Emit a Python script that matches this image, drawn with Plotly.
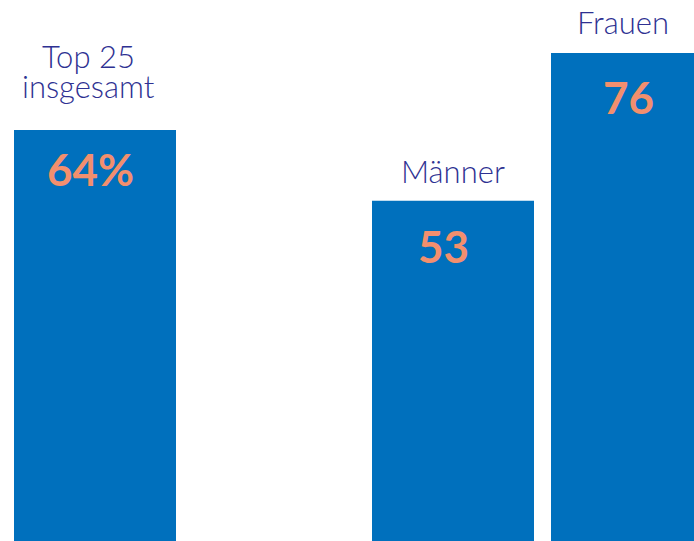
import plotly.graph_objects as go

categories = ["Top 25<br>insgesamt", "Männer", "Frauen"]
values = [64, 53, 76]
value_labels = ["64%", "53", "76"]

# layout (pixel-space positions on a numeric x axis)
bar_x = [95, 453, 632]
bar_w = 162
label_dx = [-7, 0, -9]
label_gap = [33, 19, 20]      # gap of last label line above bar top
value_dx = [-5, -10, -4]
value_gap = [39, 45, 44]      # value centre below bar top

W, H = 694, 541
px_per_unit = 6.42

bar_color = "#0070BD"
label_color = "#2E3192"
value_color = "#F28F6E"

fig = go.Figure(go.Bar(
    x=bar_x, y=values, width=bar_w,
    marker=dict(color=bar_color, line=dict(width=0)),
    hoverinfo="skip",
))

ann = []
for i, cat in enumerate(categories):
    lines = cat.split("<br>")
    n = len(lines)
    for j, ln in enumerate(lines):
        ann.append(dict(
            x=bar_x[i], y=values[i], xref="x", yref="y",
            text=ln, showarrow=False,
            xanchor="center", yanchor="middle",
            xshift=label_dx[i],
            yshift=label_gap[i] + (n - 1 - j) * 30 + 11,
            font=dict(family="Lato", size=31, color=label_color, weight=300),
        ))
    ann.append(dict(
        x=bar_x[i], y=values[i], xref="x", yref="y",
        text=value_labels[i], showarrow=False,
        xanchor="center", yanchor="middle",
        xshift=value_dx[i], yshift=-value_gap[i],
        font=dict(family="Lato", size=44, color=value_color, weight="bold"),
    ))

fig.update_layout(
    width=W, height=H,
    margin=dict(l=0, r=0, t=0, b=0),
    paper_bgcolor="white", plot_bgcolor="white",
    showlegend=False,
    xaxis=dict(range=[0, W], visible=False, fixedrange=True),
    yaxis=dict(range=[0, H / px_per_unit], visible=False, fixedrange=True),
    annotations=ann,
)

fig.write_html("out.html", config={"displayModeBar": False})
